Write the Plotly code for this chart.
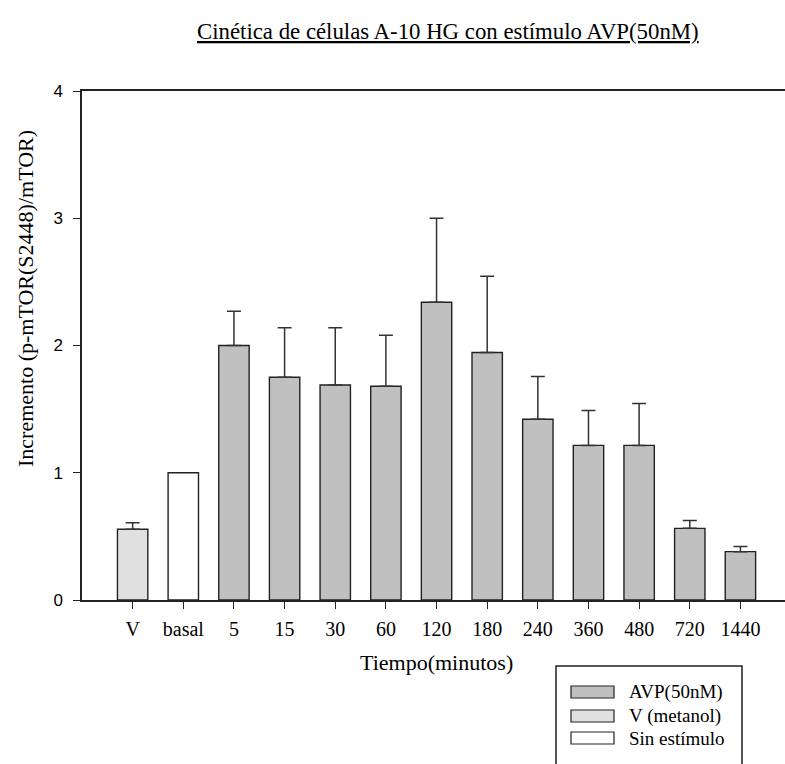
import plotly.graph_objects as go

# Time points (categories) and measured response, mean and upper error
categories = ["V", "basal", "5", "15", "30", "60", "120", "180",
              "240", "360", "480", "720", "1440"]
means = [0.556, 1.0, 2.0, 1.75, 1.69, 1.68, 2.34, 1.945,
         1.42, 1.215, 1.215, 0.563, 0.38]
errors = [0.052, 0.0, 0.27, 0.39, 0.45, 0.40, 0.66, 0.60,
          0.336, 0.275, 0.33, 0.061, 0.04]
groups = ["V (metanol)", "Sin estímulo", "AVP(50nM)", "AVP(50nM)", "AVP(50nM)",
          "AVP(50nM)", "AVP(50nM)", "AVP(50nM)", "AVP(50nM)", "AVP(50nM)",
          "AVP(50nM)", "AVP(50nM)", "AVP(50nM)"]

legend_order = ["AVP(50nM)", "V (metanol)", "Sin estímulo"]
fill = {"AVP(50nM)": "#c0c0c0", "V (metanol)": "#e0e0e0", "Sin estímulo": "#ffffff"}

title_text = "Cinética de células A-10 HG con estímulo AVP(50nM)"
x_title = "Tiempo(minutos)"
y_title = "Incremento (p-mTOR(S2448)/mTOR)"

serif = "Liberation Serif, Times New Roman, serif"
sans = "Liberation Sans, Arial, sans-serif"
edge = "#222222"

fig = go.Figure()
for g in legend_order:
    idx = [i for i, gg in enumerate(groups) if gg == g]
    xs = [categories[i] for i in idx]
    ys = [means[i] for i in idx]
    es = [errors[i] for i in idx]
    has_err = any(e > 0 for e in es)
    fig.add_trace(go.Bar(
        x=xs, y=ys, name=g, width=0.6,
        marker=dict(color=fill[g], line=dict(color=edge, width=1.4)),
        error_y=dict(type="data", symmetric=False, array=es,
                     arrayminus=[0] * len(es), color="#333333",
                     thickness=1.5, width=7, visible=has_err),
        showlegend=False,
    ))

fig.update_layout(
    width=785, height=764,
    margin=dict(l=82, r=0, t=91, b=164),
    plot_bgcolor="white", paper_bgcolor="white",
    barmode="overlay",
    font=dict(family=serif, color="black"),
)
fig.update_xaxes(
    type="category", categoryorder="array", categoryarray=categories,
    range=[-1.0, 12.88],
    showline=True, linecolor=edge, linewidth=1.5, mirror=True,
    ticks="outside", ticklen=7, tickwidth=1.3, tickcolor=edge,
    showgrid=False, zeroline=False,
    tickfont=dict(family=serif, size=20, color="black"),
    ticklabelstandoff=3,
)
fig.update_yaxes(
    range=[0, 4], tickvals=[0, 1, 2, 3, 4],
    showline=True, linecolor=edge, linewidth=1.5,
    ticks="outside", ticklen=7, tickwidth=1.3, tickcolor=edge,
    showgrid=False, zeroline=False,
    tickfont=dict(family=sans, size=17, color="black"),
    ticklabelstandoff=7,
)

plot_h = 764 - 91 - 164
plot_w = 785 - 82

def px_x(px):
    return (px - 82) / plot_w

def px_y(py):
    return (764 - 164 - py) / plot_h

annotations = [
    dict(text="<u>" + title_text + "</u>", x=px_x(448), y=px_y(31),
         xref="paper", yref="paper", showarrow=False,
         xanchor="center", yanchor="middle",
         font=dict(family=serif, size=22.8, color="black")),
    dict(text=x_title, x=px_x(436), y=px_y(662),
         xref="paper", yref="paper", showarrow=False,
         xanchor="center", yanchor="middle",
         font=dict(family=serif, size=22, color="black")),
    dict(text=y_title, x=px_x(25), y=px_y(299), textangle=-90,
         xref="paper", yref="paper", showarrow=False,
         xanchor="center", yanchor="middle",
         font=dict(family=serif, size=22, color="black")),
]

# Legend box with wide swatches
shapes = [dict(type="rect", xref="paper", yref="paper",
               x0=px_x(556), x1=px_x(742), y0=px_y(666), y1=px_y(770),
               line=dict(color=edge, width=1.5), fillcolor="white")]
row_y = [692, 716, 738]
for g, ry in zip(legend_order, row_y):
    shapes.append(dict(type="rect", xref="paper", yref="paper",
                       x0=px_x(571), x1=px_x(614), y0=px_y(ry - 6), y1=px_y(ry + 6),
                       line=dict(color=edge, width=1.2), fillcolor=fill[g]))
    annotations.append(dict(text=g, x=px_x(627), y=px_y(ry),
                            xref="paper", yref="paper", showarrow=False,
                            xanchor="left", yanchor="middle",
                            font=dict(family=serif, size=19, color="black")))

fig.update_layout(annotations=annotations, shapes=shapes)

fig.write_html("out.html")
